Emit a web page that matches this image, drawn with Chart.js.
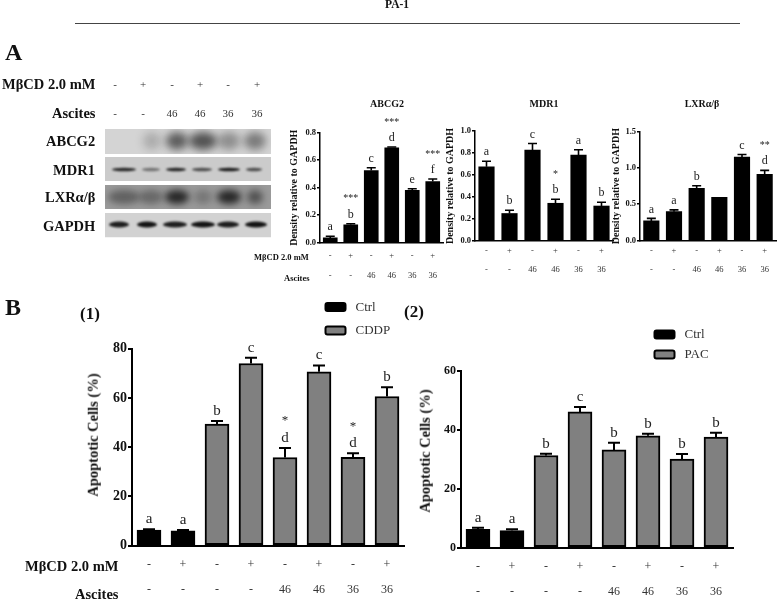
<!DOCTYPE html>
<html>
<head>
<meta charset="utf-8">
<title>PA-1</title>
<script src="https://cdn.jsdelivr.net/npm/chart.js@4/dist/chart.umd.js"></script>
<style>
    html, body { margin: 0; padding: 0; background: #fff; }
    #page { position: relative; width: 778px; height: 600px; overflow: hidden; background: #fff; font-family: "Liberation Serif", serif; color: #111; filter: blur(0.35px); }
    #page canvas { position: absolute; }
    .txt { position: absolute; white-space: nowrap; line-height: 1; will-change: transform; }
    .bold { font-weight: bold; }
</style>
</head>
<body>
<div id="page"></div>
<script>
// x axis rows
const mbcdSix = ["-", "+", "-", "+", "-", "+"];
const ascitesSix = ["-", "-", "46", "46", "36", "36"];
const mbcdEight = ["-", "+", "-", "+", "-", "+", "-", "+"];
const ascitesEight = ["-", "-", "-", "-", "46", "46", "36", "36"];

// panel A
const abcg2Values = [0.035, 0.13, 0.525, 0.69, 0.38, 0.445];
const abcg2Errors = [0.012, 0.008, 0.02, 0.006, 0.012, 0.018];
const abcg2Letters = ["a", "b", "c", "d", "e", "f"];
const abcg2Stars = ["", "***", "", "***", "", "***"];
const abcg2Ticks = [0, 0.2, 0.4, 0.6, 0.8];

const mdr1Values = [0.675, 0.25, 0.827, 0.343, 0.782, 0.318];
const mdr1Errors = [0.05, 0.03, 0.06, 0.036, 0.048, 0.034];
const mdr1Letters = ["a", "b", "c", "b", "a", "b"];
const mdr1Stars = ["", "", "", "*", "", ""];
const mdr1Ticks = [0, 0.2, 0.4, 0.6, 0.8, 1.0];

const lxrValues = [0.268, 0.397, 0.72, 0.595, 1.154, 0.914];
const lxrErrors = [0.035, 0.025, 0.035, 0, 0.035, 0.055];
const lxrLetters = ["a", "a", "b", "", "c", "d"];
const lxrStars = ["", "", "", "", "", "**"];
const lxrTicks = [0, 0.5, 1.0, 1.5];

// panel B
const cddpCtrl = [6.3, 6.0, null, null, null, null, null, null];
const cddpDrug = [null, null, 49.4, 74.0, 35.8, 70.6, 35.9, 60.6];
const cddpErrors = [0.4, 0.4, 1.2, 2.3, 3.9, 2.6, 1.6, 3.7];
const cddpLetters = ["a", "a", "b", "c", "d", "c", "d", "b"];
const cddpStars = ["", "", "", "", "*", "", "*", ""];
const cddpTicks = [0, 20, 40, 60, 80];

const pacCtrl = [6.2, 5.8, null, null, null, null, null, null];
const pacDrug = [null, null, 31.3, 46.1, 33.2, 38.0, 30.1, 37.6];
const pacErrors = [0.6, 0.5, 0.6, 1.7, 2.4, 0.7, 1.7, 1.4];
const pacLetters = ["a", "a", "b", "c", "b", "b", "b", "b"];
const pacStars = ["", "", "", "", "", "", "", ""];
const pacTicks = [0, 20, 40, 60];

const page = document.getElementById("page");

function addText(str, x, y, size, bold, align, color) {
    const el = document.createElement("div");
    el.className = "txt" + (bold ? " bold" : "");
    el.textContent = str;
    el.style.fontSize = size + "px";
    el.style.top = y + "px";
    el.style.color = color || "#111";
    if (align === "right") {
        el.style.right = (778 - x) + "px";
    } else {
        el.style.left = x + "px";
    }
    if (align === "center") el.style.transform = "translate(-50%, -50%)";
    else if (align === "rotate") el.style.transform = "translate(-50%, -50%) rotate(-90deg)";
    else el.style.transform = "translateY(-50%)";
    page.appendChild(el);
}

// error bars, letters, stars and legend are read from the chart options
const extrasPlugin = {
    id: "extras",
    afterDatasetsDraw(chart, args, opts) {
        const ctx = chart.ctx;
        const x = chart.scales.x;
        const y = chart.scales.y;
        ctx.save();
        opts.errors.forEach((err, i) => {
            const ds = chart.data.datasets.find(d => d.data[i] !== null);
            const val = ds.data[i];
            const px = x.getPixelForTick(i);
            const top = y.getPixelForValue(val + err);
            if (err > 0) {
                ctx.strokeStyle = "#000";
                ctx.lineWidth = opts.errorWidth;
                ctx.beginPath();
                ctx.moveTo(px, y.getPixelForValue(val));
                ctx.lineTo(px, top);
                ctx.moveTo(px - opts.capHalf, top);
                ctx.lineTo(px + opts.capHalf, top);
                ctx.stroke();
            }
            ctx.textAlign = "center";
            ctx.textBaseline = "middle";
            ctx.fillStyle = "#222";
            ctx.font = opts.letterSize + 'px "Liberation Serif"';
            ctx.fillText(opts.letters[i], px, top - opts.letterGap);
            ctx.font = opts.starSize + 'px "Liberation Serif"';
            ctx.fillText(opts.stars[i], px, top - opts.letterGap - opts.starGap);
        });
        if (opts.legend) {
            chart.data.datasets.forEach((ds, i) => {
                const lx = opts.legend.x - chart.canvas.offsetLeft;
                const ly = opts.legend.y[i] - chart.canvas.offsetTop;
                ctx.fillStyle = ds.backgroundColor;
                ctx.strokeStyle = "#000";
                ctx.lineWidth = 2;
                ctx.beginPath();
                ctx.roundRect(lx, ly, 20, 8, 2);
                ctx.fill();
                ctx.stroke();
                ctx.fillStyle = "#333";
                ctx.textAlign = "left";
                ctx.textBaseline = "middle";
                ctx.font = '13px "Liberation Serif"';
                ctx.fillText(ds.label, lx + 30, ly + 4.5);
            });
        }
        ctx.restore();
    }
};

function makeChart(cfg) {
    const canvas = document.createElement("canvas");
    const width = cfg.axisEnd + 10 - cfg.left;
    const height = cfg.bottom - cfg.top;
    canvas.width = width;
    canvas.height = height;
    canvas.style.left = cfg.left + "px";
    canvas.style.top = cfg.top + "px";
    page.appendChild(canvas);

    new Chart(canvas, {
        type: "bar",
        data: {
            labels: cfg.mbcd.map((m, i) => [m, cfg.ascites[i]]),
            datasets: cfg.datasets.map(d => ({
                label: d.label,
                data: d.data,
                backgroundColor: d.color,
                borderColor: "#000",
                borderWidth: cfg.barBorder,
                borderSkipped: false,
                barThickness: cfg.barWidth,
                stack: "one"
            }))
        },
        options: {
            responsive: false,
            animation: false,
            events: [],
            layout: { padding: { top: cfg.plotTop - cfg.top, right: 10, bottom: 0, left: 0 } },
            plugins: {
                legend: { display: false },
                tooltip: { enabled: false },
                extras: {
                    errors: cfg.errors,
                    letters: cfg.letters,
                    stars: cfg.stars,
                    errorWidth: cfg.errorWidth,
                    capHalf: cfg.capHalf,
                    letterSize: cfg.letterSize,
                    starSize: cfg.starSize,
                    letterGap: cfg.letterGap,
                    starGap: cfg.starGap,
                    legend: cfg.legend
                }
            },
            scales: {
                x: {
                    stacked: true,
                    offset: true,
                    afterFit(scale) { scale.height = cfg.bottom - cfg.plotBottom; },
                    border: { color: "#000", width: cfg.axisWidth },
                    grid: { drawOnChartArea: false, drawTicks: false },
                    ticks: {
                        autoSkip: false,
                        maxRotation: 0,
                        minRotation: 0,
                        padding: cfg.xPad,
                        color: "#333",
                        font: { family: "Liberation Serif", size: cfg.xSize, lineHeight: cfg.rowGap / cfg.xSize }
                    }
                },
                y: {
                    stacked: true,
                    min: cfg.ticks[0],
                    max: cfg.ticks[cfg.ticks.length - 1],
                    afterFit(scale) { scale.width = cfg.axis - cfg.left; },
                    afterBuildTicks(scale) { scale.ticks = cfg.ticks.map(v => ({ value: v })); },
                    border: { color: "#000", width: cfg.axisWidth },
                    grid: { drawOnChartArea: false, color: "#000", tickColor: "#000", tickLength: cfg.tickLen, lineWidth: cfg.axisWidth },
                    title: {
                        display: !!cfg.yTitle,
                        text: cfg.yTitle,
                        color: "#111",
                        padding: 0,
                        font: { family: "Liberation Serif", size: cfg.titleSize, weight: "bold" }
                    },
                    ticks: {
                        padding: 1,
                        color: "#111",
                        font: { family: "Liberation Serif", size: cfg.tickSize, weight: "bold" },
                        callback: v => cfg.decimals ? Number(v).toFixed(cfg.decimals) : v
                    }
                }
            }
        },
        plugins: [extrasPlugin]
    });
}

const smallStyle = {
    top: 100, bottom: 290, barBorder: 0, errorWidth: 1.6, capHalf: 4.5, axisWidth: 1.5, tickLen: 3,
    letterSize: 12, starSize: 10, letterGap: 9, starGap: 16, titleSize: 10, tickSize: 8.5, xSize: 8.5, decimals: 1
};
const bigStyle = {
    bottom: 600, barBorder: 2, errorWidth: 2, capHalf: 6, axisWidth: 2, tickLen: 4,
    letterSize: 15, starSize: 13, letterGap: 10, starGap: 17, xSize: 12, rowGap: 25, xPad: 7, decimals: 0
};

makeChart({
    ...smallStyle, left: 288, axis: 320, axisEnd: 443, plotTop: 132.7, plotBottom: 242.7, barWidth: 14,
    rowGap: 20, xPad: 3, yTitle: "Density relative to GAPDH", ticks: abcg2Ticks, mbcd: mbcdSix, ascites: ascitesSix,
    datasets: [{ label: "ABCG2", data: abcg2Values, color: "#000" }],
    errors: abcg2Errors, letters: abcg2Letters, stars: abcg2Stars
});
makeChart({
    ...smallStyle, left: 444, axis: 475, axisEnd: 613, plotTop: 131, plotBottom: 241, barWidth: 15.5,
    rowGap: 19, xPad: 0, yTitle: "Density relative to GAPDH", ticks: mdr1Ticks, mbcd: mbcdSix, ascites: ascitesSix,
    datasets: [{ label: "MDR1", data: mdr1Values, color: "#000" }],
    errors: mdr1Errors, letters: mdr1Letters, stars: mdr1Stars
});
makeChart({
    ...smallStyle, left: 610, axis: 640, axisEnd: 776.5, plotTop: 132, plotBottom: 240.3, barWidth: 15.5,
    rowGap: 19, xPad: 1, yTitle: "Density relative to GAPDH", ticks: lxrTicks, mbcd: mbcdSix, ascites: ascitesSix,
    datasets: [{ label: "LXRα/β", data: lxrValues, color: "#000" }],
    errors: lxrErrors, letters: lxrLetters, stars: lxrStars
});
makeChart({
    ...bigStyle, top: 295, left: 85, axis: 132, axisEnd: 404, plotTop: 348.7, plotBottom: 545.7, barWidth: 24,
    tickSize: 14, ticks: cddpTicks, mbcd: mbcdEight, ascites: ascitesEight,
    datasets: [{ label: "Ctrl", data: cddpCtrl, color: "#000" }, { label: "CDDP", data: cddpDrug, color: "#808080" }],
    errors: cddpErrors, letters: cddpLetters, stars: cddpStars,
    legend: { x: 325.5, y: [303, 326.5] }
});
makeChart({
    ...bigStyle, top: 325, left: 417, axis: 461, axisEnd: 733, plotTop: 371, plotBottom: 547.7, barWidth: 24,
    tickSize: 12, ticks: pacTicks, mbcd: mbcdEight, ascites: ascitesEight,
    datasets: [{ label: "Ctrl", data: pacCtrl, color: "#000" }, { label: "PAC", data: pacDrug, color: "#808080" }],
    errors: pacErrors, letters: pacLetters, stars: pacStars,
    legend: { x: 654.5, y: [330.5, 350.5] }
});

// blot image, not data
function drawBlots() {
    const c = document.createElement("canvas");
    c.width = 166;
    c.height = 109;
    c.style.left = "105px";
    c.style.top = "129px";
    page.appendChild(c);
    const ctx = c.getContext("2d");
    const strips = [
        { y: 0, h: 25, bg: "#d4d4d4", lanes: [19, 47, 72, 98, 124, 150], band: 12, bh: 9, blur: 4, w: [0, 9, 11, 14, 11, 11], tone: [0, 0.2, 0.6, 0.65, 0.35, 0.45] },
        { y: 28, h: 24, bg: "#cbcbcb", lanes: [19, 46, 71, 97, 124, 149], band: 12.5, bh: 1.7, blur: 0.8, w: [12, 9, 10, 10, 11, 8], tone: [0.85, 0.45, 0.85, 0.65, 0.9, 0.65] },
        { y: 56, h: 24, bg: "#9a9a9a", lanes: [19, 46, 72, 98, 124, 150], band: 12, bh: 7, blur: 3.5, w: [16, 12, 12, 9, 12, 8], tone: [0.4, 0.35, 0.8, 0.25, 0.8, 0.5] },
        { y: 84, h: 24.5, bg: "#d2d2d2", lanes: [14, 42, 70, 98, 123, 151], band: 11.5, bh: 3, blur: 0.9, w: [10, 10, 12, 12, 11, 11], tone: [0.9, 0.95, 0.9, 0.95, 0.9, 0.95] }
    ];
    strips.forEach(s => {
        ctx.save();
        ctx.beginPath();
        ctx.rect(0, s.y, 166, s.h);
        ctx.clip();
        ctx.fillStyle = s.bg;
        ctx.fillRect(0, s.y, 166, s.h);
        ctx.filter = "blur(" + s.blur + "px)";
        s.lanes.forEach((lx, i) => {
            if (!s.tone[i]) return;
            ctx.fillStyle = "rgba(10,10,10," + s.tone[i] + ")";
            ctx.beginPath();
            ctx.ellipse(lx, s.y + s.band, s.w[i], s.bh, 0, 0, Math.PI * 2);
            ctx.fill();
        });
        ctx.restore();
    });
}
drawBlots();

// page level text
addText("PA-1", 397, 5, 11.5, true, "center");
const rule = document.createElement("div");
rule.style.cssText = "position:absolute;left:75px;top:23px;width:665px;height:1px;background:#444";
page.appendChild(rule);

addText("A", 5, 52, 24, true, "left");
addText("B", 5, 307, 24, true, "left");
addText("(1)", 80, 313, 17, true, "left");
addText("(2)", 404, 311, 17, true, "left");

addText("MβCD 2.0 mM", 95, 84, 14.5, true, "right");
addText("Ascites", 95, 113, 14.5, true, "right");
addText("ABCG2", 95, 141, 14.5, true, "right");
addText("MDR1", 95, 170, 14.5, true, "right");
addText("LXRα/β", 95, 197, 14.5, true, "right");
addText("GAPDH", 95, 226, 14.5, true, "right");

const blotColumns = [115, 143, 172, 200, 228, 257];
blotColumns.forEach((x, i) => {
    addText(mbcdSix[i], x, 84, 11, false, "center", "#333");
    addText(ascitesSix[i], x, 113, 11, false, "center", "#333");
});

addText("ABCG2", 386.7, 103.5, 10, true, "center");
addText("MDR1", 543.7, 103.5, 10, true, "center");
addText("LXRα/β", 701.7, 103.5, 10, true, "center");

addText("MβCD 2.0 mM", 309, 256.5, 8.5, true, "right");
addText("Ascites", 309, 277.5, 8.5, true, "right");

addText("MβCD 2.0 mM", 118, 566, 14.5, true, "right");
addText("Ascites", 118, 594, 14.5, true, "right");

addText("Apoptotic Cells (%)", 93, 435, 14.5, true, "rotate");
addText("Apoptotic Cells (%)", 425, 451, 14.5, true, "rotate");
</script>
</body>
</html>
